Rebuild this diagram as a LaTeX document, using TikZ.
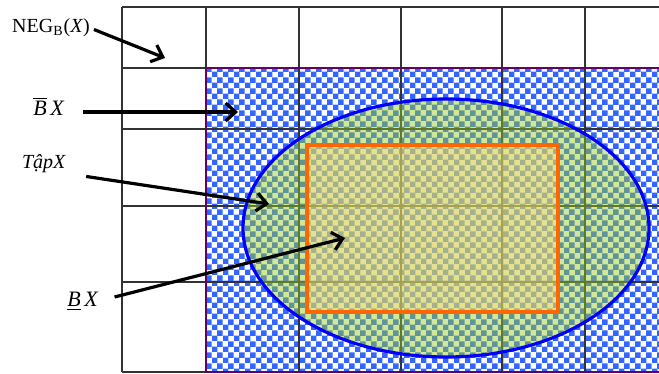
\documentclass[tikz,border=0pt]{standalone}
\usepackage{fontspec}
\setmainfont{Liberation Serif}
\usetikzlibrary{arrows.meta,patterns}
\definecolor{chkblue}{HTML}{3366FF}
\definecolor{rimpurple}{HTML}{660066}
\definecolor{setgreen}{HTML}{99CC1A}
\definecolor{lowtan}{HTML}{FFD980}
\definecolor{lowline}{HTML}{FF6600}
\pgfdeclarepatternformonly{smallchecks}{\pgfpointorigin}{\pgfqpoint{5.6pt}{5.6pt}}{\pgfqpoint{5.6pt}{5.6pt}}{%
  \pgfpathrectangle{\pgfpointorigin}{\pgfqpoint{2.85pt}{2.85pt}}%
  \pgfpathrectangle{\pgfqpoint{2.8pt}{2.8pt}}{\pgfqpoint{2.85pt}{2.85pt}}%
  \pgfusepath{fill}}

\begin{document}
\begin{tikzpicture}[x=0.5pt,y=-0.5pt,
    every node/.style={font=\fontsize{10}{12}\selectfont,inner sep=0pt},
    grid/.style={draw=black!80,line width=0.6pt},
    arr/.style={-{Straight Barb[length=5pt,width=9pt]},line width=1.6pt},
  ]
  \useasboundingbox (0,0) rectangle (659,374);
  \clip (0,0) rectangle (659,374);
  % boundary region
  \fill[pattern=smallchecks,pattern color=chkblue] (206,68) rectangle (665,372);
  \foreach \gx in {122,206,299,401,502,585}
    \draw[grid] (\gx,7) -- (\gx,372);
  \foreach \gy in {7,68,129,206,282,372}
    \draw[grid] (122,\gy) -- (665,\gy);
  \draw[rimpurple,line width=1.1pt] (665,68) -- (206,68) -- (206,372) -- (665,372);
  % set X and lower approximation
  \draw[blue,line width=1.6pt,fill=setgreen,fill opacity=0.45]
    (446,228) ellipse [x radius=203,y radius=129];
  \draw[lowline,line width=1.6pt,fill=lowtan,fill opacity=0.43]
    (307,145) rectangle (558,312);

  \node (negl) at (51,28) {NEG\textsubscript{B}(\textit{X})};
  \node (upl) at (49,106) {\fontsize{11}{13}\selectfont$\overline{\mbox{\textit{B}}}$\,\textit{X}};
  \node (tapl) at (44,164) {\textit{TậpX}};
  \node (lowl) at (83,301) {\fontsize{11}{13}\selectfont\underline{\textit{B}}\,\textit{X}};

  \coordinate (negp) at (165,58);
  \coordinate (upp) at (238,112);
  \coordinate (tapp) at (269,204);
  \coordinate (lowp) at (345,238);

  \draw[arr,shorten <=2pt] (negl.east) -- (negp);
  \draw[arr,shorten <=9pt] (upl.east |- upp) -- (upp);
  \draw[arr,shorten <=10pt] (tapl.south east) -- (tapp);
  \draw[arr,shorten <=8pt] (lowl.east) -- (lowp);
\end{tikzpicture}
\end{document}
